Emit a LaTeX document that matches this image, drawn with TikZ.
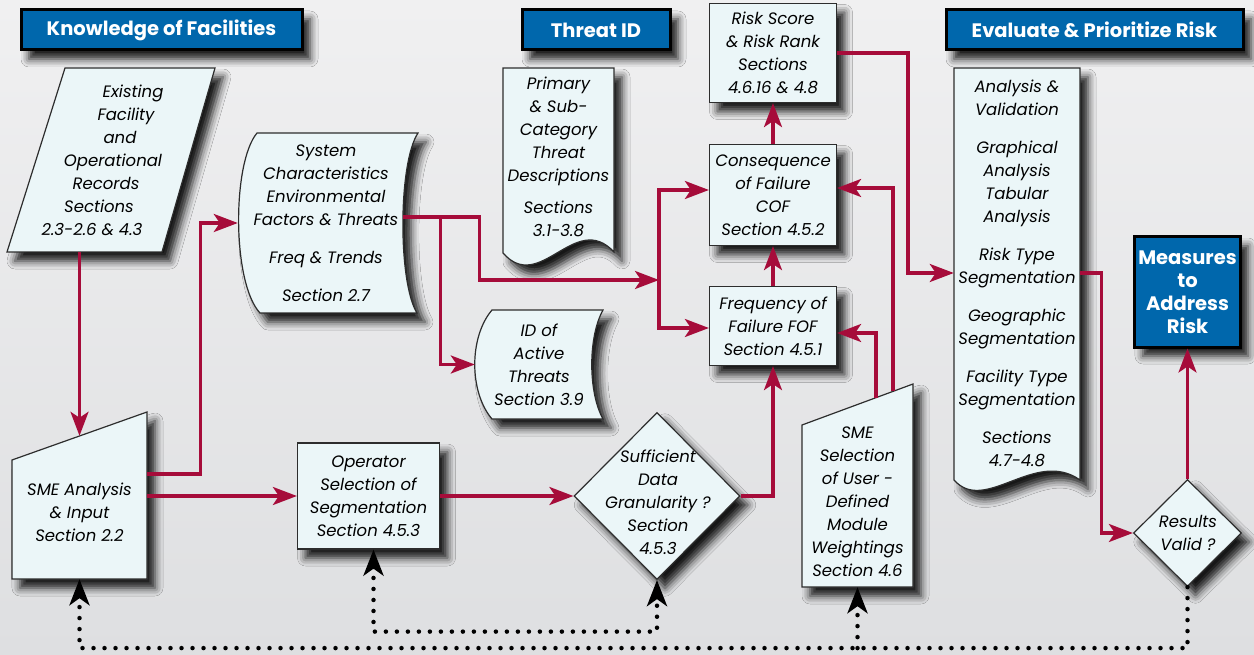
\documentclass[tikz,border=0pt]{standalone}
\usepackage{fontspec}
\setmainfont{Poppins}
\usetikzlibrary{arrows.meta,shapes.geometric,shadows.blur}

\definecolor{boxfill}{RGB}{235,246,248}
\definecolor{boxedge}{RGB}{45,45,45}
\definecolor{headblue}{RGB}{0,103,172}
\definecolor{flowred}{RGB}{166,12,58}
\definecolor{bgtop}{RGB}{240,240,241}
\definecolor{bgbottom}{RGB}{222,223,225}

\newcommand\bodyfont{\fontsize{16.5}{23}\selectfont\itshape}
\newcommand\headfont{\fontsize{19.5}{23}\selectfont\bfseries}

\tikzset{
  shade box/.style={blur shadow={shadow xshift=8pt,shadow yshift=-9pt,shadow blur radius=8pt,shadow opacity=90}},
  box/.style={draw=boxedge,line width=1.2pt,fill=boxfill,shade box,font=\bodyfont,align=center,inner sep=2pt},
  outline/.style={draw=boxedge,line width=1.2pt,fill=boxfill,shade box},
  txt/.style={font=\bodyfont,align=center,inner sep=0pt},
  header/.style={draw=black,line width=3pt,fill=headblue,text=white,font=\headfont,align=center,shade box},
  flow/.style={draw=flowred,line width=3.3pt,>={Stealth[length=24pt,width=18pt,inset=6pt]},->},
  feedback/.style={draw=black,line width=4.5pt,line cap=round,dash pattern=on 0pt off 11pt,>={Stealth[length=26pt,width=20pt,inset=7pt]},->},
}

\begin{document}
\begin{tikzpicture}[x=1pt,y=-1pt]
  \useasboundingbox (0,0) rectangle (1254,655);
  \shade[top color=bgtop,bottom color=bgbottom] (0,0) rectangle (1254,655);

  % records, data and input shapes
  \path[outline] (65,68) -- (215,68) -- (162,252) -- (7,252) -- cycle;
  \path[outline] (257,133) -- (418,133) .. controls (398,163) and (398,283) .. (417,313)
    -- (260,313) .. controls (232,283) and (232,163) .. (257,133) -- cycle;
  \path[outline] (503,253) -- (503,68) -- (614,68) -- (614,252)
    .. controls (575,210) and (540,295) .. (503,253) -- cycle;
  \path[outline] (492,310) -- (603,310) .. controls (588,337) and (588,392) .. (603,419)
    -- (492,419) .. controls (469,392) and (469,337) .. (492,310) -- cycle;
  \path[outline] (12,460) -- (147,412) -- (147,579) -- (12,579) -- cycle;
  \path[outline] (802,425) -- (913,384) -- (913,587) -- (802,587) -- cycle;
  \path[outline] (954,480) -- (954,68) -- (1080,68) -- (1080,480)
    .. controls (1035,448) and (985,515) .. (954,480) -- cycle;

  % section headers
  \node[header,minimum width=281pt,minimum height=40pt] (know) at (161.5,30) {Knowledge of Facilities};
  \node[header,minimum width=148pt,minimum height=40pt] (threat) at (596,30) {Threat ID};
  \node[header,minimum width=297pt,minimum height=40pt] (evalrisk) at (1094.5,30) {Evaluate \& Prioritize Risk};
  \node[header,minimum width=101pt,minimum height=110pt] (measures) at (1187.5,292) {Measures\\to\\Address\\Risk};

  % process boxes
  \node[box,minimum width=127pt,minimum height=99pt] (risk) at (773,53) {Risk Score\\\& Risk Rank\\Sections\\4.6.16 \& 4.8};
  \node[box,minimum width=127pt,minimum height=101pt] (cof) at (773,195) {Consequence\\of Failure\\COF\\Section 4.5.2};
  \node[box,minimum width=127pt,minimum height=79pt] (fof) at (773,326) {Frequency of\\Failure FOF\\Section 4.5.1};
  \node[box,minimum width=142pt,minimum height=106pt] (oper) at (368.5,496) {Operator\\Selection of\\Segmentation\\Section 4.5.3};

  % decisions
  \node[box,diamond,minimum width=166pt,minimum height=167pt] (suff) at (657,496) {};
  \node[txt] (sufftext) at (658,502) {Sufficient\\Data\\Granularity ?\\Section\\4.5.3};
  \node[box,diamond,minimum width=108pt,minimum height=107pt] (valid) at (1187.5,533) {};
  \node[txt] (validtext) at (1188,533) {Results\\Valid ?};

  % texts of the drawn shapes
  \node[txt,minimum width=208pt,minimum height=184pt] (records) at (111,160)
    {\hspace*{44pt}Existing\\\hspace*{30pt}Facility\\\hspace*{18pt}and\\\hspace*{4pt}Operational\\
     \hspace*{-10pt}Records\\\hspace*{-24pt}Sections\\\hspace*{-38pt}2.3-2.6 \& 4.3};
  \node[txt,minimum width=176pt,minimum height=180pt] (sys) at (326,223)
    {System\\Characteristics\\Environmental\\Factors \& Threats\\[15pt]Freq \& Trends\\[15pt]Section 2.7};
  \node[txt] (prim) at (558.5,156.5) {Primary\\\& Sub-\\Category\\Threat\\Descriptions\\[9pt]Sections\\3.1-3.8};
  \node[txt,minimum width=128pt,minimum height=109pt] (idthr) at (539,364.5) {ID of\\Active\\Threats\\Section 3.9};
  \node[txt,minimum width=135pt,minimum height=134pt] (smea) at (79.5,512) {SME Analysis\\\& Input\\Section 2.2};
  \node[txt,minimum width=111pt,minimum height=171pt] (smes) at (857.5,501.5)
    {SME\\Selection\\of User -\\Defined\\Module\\Weightings\\Section 4.6};
  \node[txt,minimum width=126pt,minimum height=410pt] (anal) at (1017,273)
    {Analysis \&\\Validation\\[15pt]Graphical\\Analysis\\Tabular\\Analysis\\[15pt]Risk Type\\Segmentation\\[15pt]
     Geographic\\Segmentation\\[15pt]Facility Type\\Segmentation\\[15pt]Sections\\4.7-4.8};

  % main flow
  \draw[flow] (records.south -| smea.north) -- ([yshift=9pt]smea.north);
  \draw[flow] ([yshift=38pt]smea.east) -- ++(53,0) |- (sys.west);
  \draw[flow] (smea.east |- oper.west) -- (oper.west);
  \draw[flow] (oper.east) -- (suff.west);
  \draw[flow] (suff.east) -| (fof.south);
  \draw[flow] (fof.north) -- (cof.south);
  \draw[flow] (cof.north) -- (risk.south);
  \coordinate (split) at (659,280);
  \draw[flow] ([xshift=-11pt,yshift=6pt]sys.east) -- ++(76,0) |- (split);
  \draw[flow] (split) |- ([yshift=5pt]cof.west);
  \draw[flow] (split) |- ([yshift=-2pt]fof.west);
  \draw[flow] ([xshift=26pt,yshift=6pt]sys.east) |- (idthr.west);
  \draw[flow] (risk.east) -- ++(71,0) |- (anal.west);
  \draw[flow] ([xshift=35.5pt,yshift=25pt]smes.north) |- ([yshift=7pt]cof.east);
  \draw[flow] ([xshift=18.5pt,yshift=18pt]smes.north) |- ([yshift=-7pt]fof.east);
  \draw[flow] (anal.east) -- ++(21,0) |- (valid.west);
  \draw[flow] (valid.north) -- (measures.south);

  % feedback loops
  \draw[feedback] (valid.south) -- ++(0,61) coordinate (loop) -| (smea.south);
  \draw[feedback] (loop -| smes.south) -- (smes.south);
  \draw[feedback,<->] ([xshift=5pt]oper.south) -- ++(0,82) -| (suff.south);
\end{tikzpicture}
\end{document}
